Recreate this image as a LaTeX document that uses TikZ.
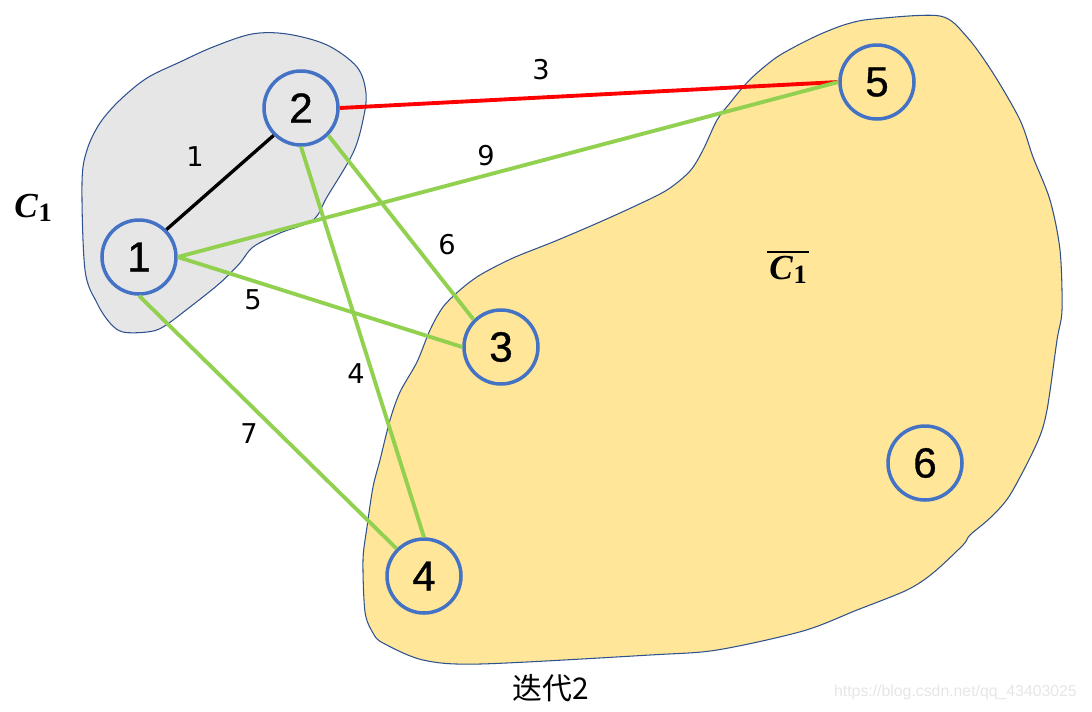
\documentclass[tikz,border=0pt]{standalone}
\usepackage{fontspec}
\setmainfont{Liberation Sans}
\newfontfamily\cjk{Noto Sans CJK SC}
\newfontfamily\labelfont{DejaVu Sans}
\newfontfamily\nodefont[FakeBold=0.8]{Liberation Sans}
\newfontfamily\setfont{Liberation Serif}
\newcommand{\setname}{{\setfont\bfseries\itshape\fontsize{20}{20}\selectfont C}\kern0.5pt\raisebox{-0.4ex}{\setfont\bfseries\fontsize{15}{15}\selectfont 1}}
\definecolor{blobline}{HTML}{2F528F}
\definecolor{grayfill}{HTML}{E7E6E6}
\definecolor{yellowfill}{HTML}{FFE699}
\definecolor{nodeblue}{HTML}{4472C4}
\definecolor{edgegreen}{HTML}{92D050}
\definecolor{edgered}{HTML}{FF0000}
\definecolor{wmark}{HTML}{E6E6E6}
\begin{document}
\begin{tikzpicture}[x=0.02cm,y=-0.02cm,
  vertex/.style={circle,draw=nodeblue,line width=2pt,minimum size=1.48cm,inner sep=0pt,font=\nodefont\fontsize{24}{24}\selectfont},
  blob/.style={draw=blobline,line width=0.6pt},
  gedge/.style={draw=edgegreen,line width=2.2pt},
  redge/.style={draw=edgered,line width=2.2pt},
  bedge/.style={draw=black,line width=1.9pt},
  wlabel/.style={font=\labelfont\fontsize{15.5}{15.5}\selectfont},
  setlabel/.style={inner sep=1pt}
]
\useasboundingbox (0,0) rectangle (1092,711);
% clusters
\draw[blob,fill=grayfill] plot[smooth cycle,tension=0.55] coordinates {
 (213,47) (252,34) (287,34) (327,45) (357,67) (366,93) (363,120) (353,153)
 (327,197) (313,220) (280,233) (253,247) (240,263) (220,283) (190,307)
 (163,327) (147,332) (123,332) (110,323) (97,303) (85,270) (82,183)
 (87,150) (100,123) (120,100) (147,78) (180,62)};
\draw[blob,fill=yellowfill] plot[smooth cycle,tension=0.5] coordinates {
 (873,19) (940,16) (967,37) (993,73) (1020,120) (1033,157) (1050,200)
 (1060,250) (1062,310) (1057,340) (1047,410) (1037,443) (1010,495)
 (990,518) (970,535) (963,545) (933,573) (907,590) (857,610) (803,631)
 (717,650) (650,655) (480,664) (423,660) (383,643) (373,633) (365,612)
 (363,560) (367,527) (373,487) (380,460) (390,420) (400,392) (417,362)
 (430,330) (443,307) (460,290) (480,275) (513,258) (553,242) (593,225)
 (633,207) (667,190) (690,171) (703,150) (717,120) (730,103) (743,87)
 (757,73) (777,57) (800,44) (823,33) (847,24)};
% vertices
\node[vertex] (n1) at (139,257) {1};
\node[vertex] (n2) at (301,108) {2};
\node[vertex] (n3) at (501,347) {3};
\node[vertex] (n4) at (424,576) {4};
\node[vertex] (n5) at (877,82) {5};
\node[vertex] (n6) at (925,463) {6};
% edges
\draw[bedge] (n1.north east) -- (n2.south west);
\draw[redge] (n2.east) -- (n5.west);
\draw[gedge] (n1.east) -- (n5.west);
\draw[gedge] (n1.east) -- (n3.west);
\draw[gedge] (n1.south) -- (n4.north west);
\draw[gedge] (n2.south) -- (n4.north);
\draw[gedge] (n2.south east) -- (n3.north west);
% edge weights
\node[wlabel] (w12) at (195,157) {1};
\node[wlabel] (w25) at (541,70) {3};
\node[wlabel] (w15) at (486,156) {9};
\node[wlabel] (w23) at (447,245) {6};
\node[wlabel] (w13) at (253,300) {5};
\node[wlabel] (w24) at (356,374) {4};
\node[wlabel] (w14) at (249,434) {7};
% set labels
\node[setlabel] (c1) at (33,208) {\setname};
\node[setlabel] (c1bar) at (788,270) {\setname};
\draw[line width=1pt] ([yshift=1.5pt]c1bar.north west) -- ([yshift=1.5pt]c1bar.north east);
\node[font=\fontsize{17}{17}\selectfont\cjk] (iter) at (551,688) {迭代2};
\node[font=\fontsize{9}{9}\selectfont,text=wmark,anchor=east] (wm) at (1083,692) {https://blog.csdn.net/qq\_43403025};
\end{tikzpicture}
\end{document}
